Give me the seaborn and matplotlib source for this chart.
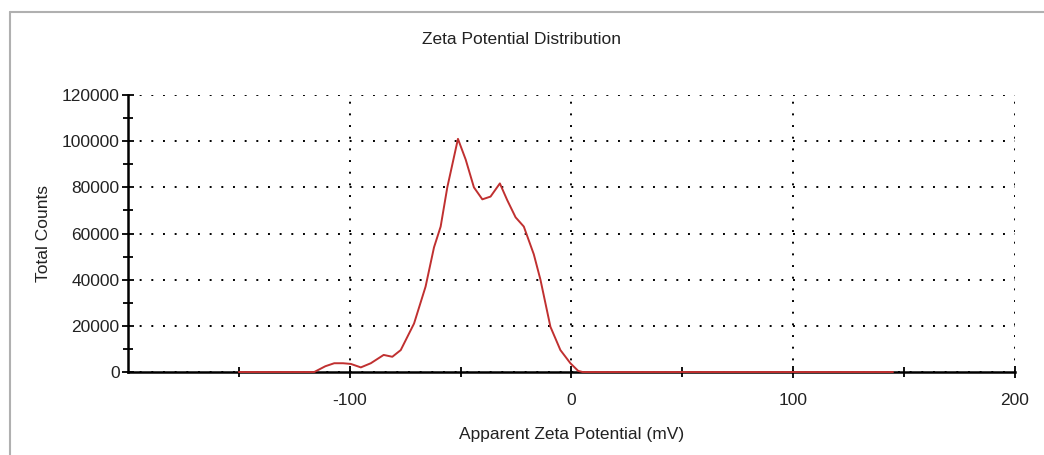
import matplotlib
matplotlib.use("Agg")
import matplotlib.pyplot as plt
from matplotlib.lines import Line2D
from matplotlib.ticker import MultipleLocator, FixedLocator
import seaborn as sns
import pandas as pd

# Data
zeta_mv = [-150, -116, -111, -107, -103, -99.5, -95, -90.5, -84.7, -80.8, -77,
           -71, -65.8, -62, -59, -56, -51.2, -47.7, -44, -40.2, -36.5, -32.3,
           -29, -25.2, -21.5, -17, -14, -9.5, -5, -0.5, 3, 5, 145]
total_counts = [0, 0, 2500, 3800, 3800, 3500, 2000, 3800, 7400, 6600, 9500,
                21000, 37000, 54000, 63000, 80000, 101000, 92000, 80000, 74800,
                76000, 81700, 74500, 67000, 63000, 51000, 40000, 19600, 9500,
                3800, 500, 0, 0]
y_ticks = [0, 20000, 40000, 60000, 80000, 100000, 120000]
x_tick_labels = [-100, 0, 100, 200]

df = pd.DataFrame({"Apparent Zeta Potential (mV)": zeta_mv, "Total Counts": total_counts})

sns.set_style("white")
plt.rcParams["font.family"] = ["Liberation Sans", "DejaVu Sans"]

fig = plt.figure(figsize=(10.44, 4.55), dpi=100)
ax = fig.add_axes([0.1226, 0.1824, 0.8496, 0.6088])

sns.lineplot(data=df, x="Apparent Zeta Potential (mV)", y="Total Counts", ax=ax,
             color="#c03030", linewidth=1.4, zorder=5)
for ln in ax.get_lines():
    ln.set_clip_on(False)

ax.set_xlim(-200, 200)
ax.set_ylim(0, 120000)

ax.xaxis.set_major_locator(FixedLocator(x_tick_labels))
ax.xaxis.set_minor_locator(FixedLocator([-150, -50, 50, 150]))
ax.yaxis.set_major_locator(FixedLocator(y_ticks))
ax.yaxis.set_minor_locator(MultipleLocator(10000))
ax.set_yticklabels([str(v) for v in y_ticks])
ax.set_xticklabels([str(v) for v in x_tick_labels])

ax.tick_params(axis="both", which="both", direction="inout", color="black",
               width=1.3, labelsize=12.5, labelcolor="#222222",
               bottom=True, left=True, top=False, right=False)
ax.tick_params(axis="both", which="major", length=8, pad=2)
ax.tick_params(axis="both", which="minor", length=7)
ax.tick_params(axis="x", which="major", pad=11)

for side in ["top", "right"]:
    ax.spines[side].set_visible(False)
for side in ["left", "bottom"]:
    ax.spines[side].set_color("black")
    ax.spines[side].set_linewidth(1.8)
    ax.spines[side].set_zorder(4)

ax.grid(True, which="major", color="black", linestyle=(0, (1, 5)), linewidth=1.4)
ax.set_axisbelow(True)

ax.set_xlabel("Apparent Zeta Potential (mV)", fontsize=12.5, labelpad=14, color="#222222")
ax.set_ylabel("Total Counts", fontsize=12.5, labelpad=8, color="#222222")
fig.text(0.5, 1 - 40 / 455, "Zeta Potential Distribution", fontsize=12.5,
         ha="center", va="center", color="#222222")

# grey frame of the original window (left and top edges)
fig.add_artist(Line2D([10 / 1044, 10 / 1044], [0, 1 - 12 / 455], transform=fig.transFigure,
                      color="#b0b0b0", linewidth=1.5))
fig.add_artist(Line2D([10 / 1044, 1], [1 - 12 / 455, 1 - 12 / 455], transform=fig.transFigure,
                      color="#b0b0b0", linewidth=1.5))

fig.savefig("out.png", dpi=100)
